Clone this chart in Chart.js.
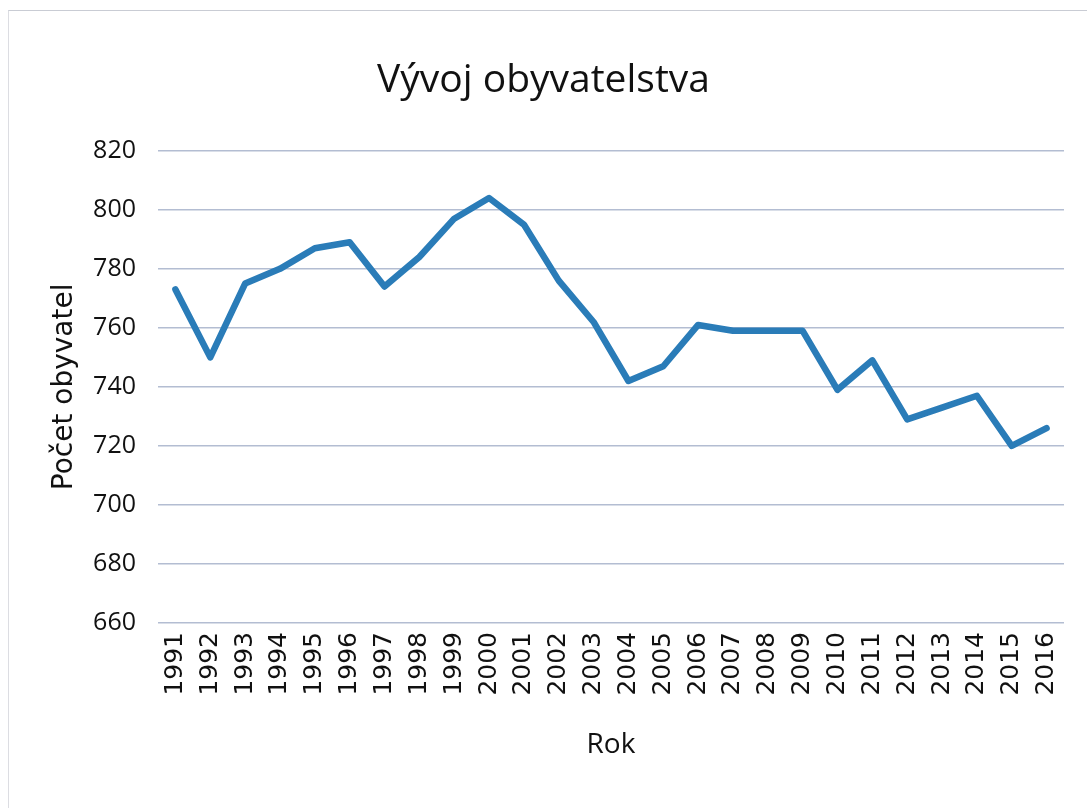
<!DOCTYPE html>
<html>
<head>
<meta charset="utf-8">
<title>Vývoj obyvatelstva</title>
<script src="https://cdn.jsdelivr.net/npm/chart.js@4/dist/chart.umd.min.js"></script>
<style>
  html, body { margin: 0; padding: 0; background: #fff; }
  #wrap { position: relative; width: 1087px; height: 808px; }
  #frame {
    position: absolute; left: 8px; top: 10px; width: 1079px; height: 798px;
    border-top: 1px solid #c9ccd4; border-left: 1px solid #dcdde2;
    pointer-events: none;
  }
  canvas { position: absolute; left: 0; top: 0; }
</style>
</head>
<body>
<div id="wrap">
  <canvas id="chart" width="1087" height="808"></canvas>
  <div id="frame"></div>
</div>
<script>
// Data
const years = [
  "1991", "1992", "1993", "1994", "1995", "1996", "1997", "1998", "1999",
  "2000", "2001", "2002", "2003", "2004", "2005", "2006", "2007", "2008",
  "2009", "2010", "2011", "2012", "2013", "2014", "2015", "2016"
]
const population = [
  773, 750, 775, 780, 787, 789, 774, 784, 797,
  804, 795, 776, 762, 742, 747, 761, 759, 759,
  759, 739, 749, 729, 733, 737, 720, 726
]
const yMin = 660
const yMax = 820
const yStep = 20

const chartTitle = "Vývoj obyvatelstva"
const xTitle = "Rok"
const yTitle = "Počet obyvatel"

const lineColor = "#2a7cb8"
const gridColor = "#b3bdd2"

const ctx = document.getElementById("chart").getContext("2d")

new Chart(ctx, {
  type: "line",
  data: {
    labels: years,
    datasets: [
      {
        label: yTitle,
        data: population,
        borderColor: lineColor,
        backgroundColor: lineColor,
        borderWidth: 6.5,
        borderJoinStyle: "round",
        borderCapStyle: "round",
        pointRadius: 0,
        tension: 0,
        fill: false,
      },
    ],
  },
  options: {
    responsive: false,
    animation: false,
    devicePixelRatio: 1,
    layout: {
      padding: { left: 0, right: 0, top: 0, bottom: 0 },
    },
    plugins: {
      legend: { display: false },
      tooltip: { enabled: false },
      title: {
        display: true,
        text: chartTitle,
        color: "#111",
        font: { family: "'Open Sans', sans-serif", size: 39, weight: "normal" },
        padding: { top: 57, bottom: 47 },
      },
    },
    scales: {
      x: {
        offset: true,
        grid: { display: false, drawTicks: false },
        border: { display: false },
        ticks: {
          color: "#111",
          font: { family: "'DejaVu Sans', sans-serif", size: 25 },
          minRotation: 90,
          maxRotation: 90,
          autoSkip: false,
          padding: 9,
        },
        title: {
          display: true,
          text: xTitle,
          color: "#111",
          font: { family: "'Open Sans', sans-serif", size: 28 },
          padding: { top: 0, bottom: 46 },
        },
        afterFit: (scale) => {
          scale.height = 185
        },
      },
      y: {
        min: yMin,
        max: yMax,
        grid: {
          color: gridColor,
          lineWidth: 1.5,
          drawTicks: false,
        },
        border: { display: false },
        ticks: {
          stepSize: yStep,
          color: "#111",
          font: { family: "'Open Sans', sans-serif", size: 25 },
          padding: 22,
        },
        title: {
          display: true,
          text: yTitle,
          color: "#111",
          font: { family: "'DejaVu Sans', sans-serif", size: 28 },
          padding: { top: 48, bottom: 0 },
        },
        afterFit: (scale) => {
          scale.width = 158
        },
      },
      // empty right-hand axis that only keeps the right margin
      yRight: {
        position: "right",
        min: yMin,
        max: yMax,
        grid: { display: false, drawTicks: false },
        border: { display: false },
        ticks: { display: false },
        afterFit: (scale) => {
          scale.width = 23
        },
      },
    },
  },
})
</script>
</body>
</html>
